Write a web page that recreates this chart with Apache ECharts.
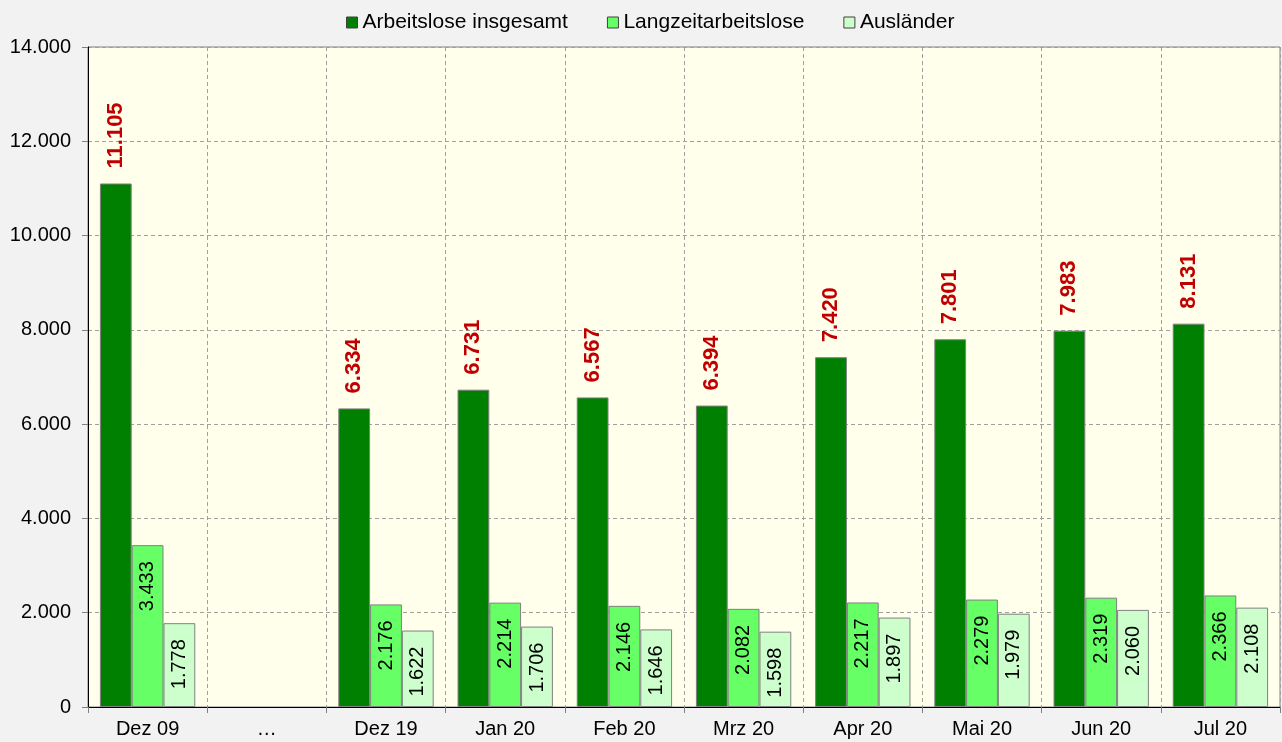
<!DOCTYPE html>
<html>
<head>
<meta charset="utf-8">
<script src="https://cdn.jsdelivr.net/npm/echarts@6/dist/echarts.min.js"></script>
<style>html,body{margin:0;padding:0;background:#f2f2f2;}#c{width:1282px;height:742px;}</style>
</head>
<body>
<div id="c"></div>
<script>
const categories = ['Dez 09', '…', 'Dez 19', 'Jan 20', 'Feb 20', 'Mrz 20', 'Apr 20', 'Mai 20', 'Jun 20', 'Jul 20'];
const seriesNames = ['Arbeitslose insgesamt', 'Langzeitarbeitslose', 'Ausländer'];
const arbeitslose = [11105, null, 6334, 6731, 6567, 6394, 7420, 7801, 7983, 8131];
const langzeit = [3433, null, 2176, 2214, 2146, 2082, 2217, 2279, 2319, 2366];
const auslaender = [1778, null, 1622, 1706, 1646, 1598, 1897, 1979, 2060, 2108];

function fmt(v) {
  return String(v).replace(/\B(?=(\d{3})+(?!\d))/g, '.');
}
const font = 'Liberation Sans, Arial, sans-serif';
const chart = echarts.init(document.getElementById('c'));
function insideLabel() {
  return {
    show: true, position: 'insideTop', rotate: 90, align: 'right', verticalAlign: 'middle',
    distance: 16, color: '#000', fontSize: 20, fontFamily: font,
    formatter: p => fmt(p.value)
  };
}
chart.setOption({
  backgroundColor: '#f2f2f2',
  animation: false,
  legend: {
    top: 7, left: 341, itemWidth: 11, itemHeight: 11, itemGap: 39,
    icon: 'rect',
    textStyle: { fontSize: 21, fontFamily: font, color: '#000' },
    data: seriesNames.map((n, i) => ({ name: n, itemStyle: { borderColor: '#404040', borderWidth: 1 } }))
  },
  grid: { left: 88, right: 2, top: 47, bottom: 35, show: true, backgroundColor: '#ffffeb', borderColor: '#808080', borderWidth: 1 },
  xAxis: {
    type: 'category', data: categories,
    axisLine: { lineStyle: { color: '#000', width: 1 } },
    axisTick: { show: true, length: 6, lineStyle: { color: '#808080' } },
    splitLine: { show: true, lineStyle: { type: [4, 3], color: '#a0a0a0' } },
    axisLabel: { fontSize: 20, fontFamily: font, color: '#000', margin: 12 }
  },
  yAxis: {
    type: 'value', min: 0, max: 14000, interval: 2000,
    axisLine: { show: true, lineStyle: { color: '#000' } },
    axisTick: { show: true, length: 6, lineStyle: { color: '#808080' } },
    splitLine: { show: true, lineStyle: { type: [4, 3], color: '#a0a0a0' } },
    axisLabel: { fontSize: 20, fontFamily: font, color: '#000', margin: 17, formatter: v => fmt(v) }
  },
  series: [
    {
      name: seriesNames[0], type: 'bar', data: arbeitslose, barGap: '0%', barCategoryGap: '20%',
      itemStyle: { color: '#008000', borderColor: '#808080', borderWidth: 1 },
      label: {
        show: true, position: 'top', rotate: 90, align: 'left', verticalAlign: 'middle',
        distance: 15, color: '#c00000', fontSize: 22, fontWeight: 'bold', fontFamily: font,
        formatter: p => fmt(p.value)
      }
    },
    {
      name: seriesNames[1], type: 'bar', data: langzeit,
      itemStyle: { color: '#66ff66', borderColor: '#808080', borderWidth: 1 },
      label: insideLabel()
    },
    {
      name: seriesNames[2], type: 'bar', data: auslaender,
      itemStyle: { color: '#ccffcc', borderColor: '#808080', borderWidth: 1 },
      label: insideLabel()
    }
  ]
});
</script>
</body>
</html>
